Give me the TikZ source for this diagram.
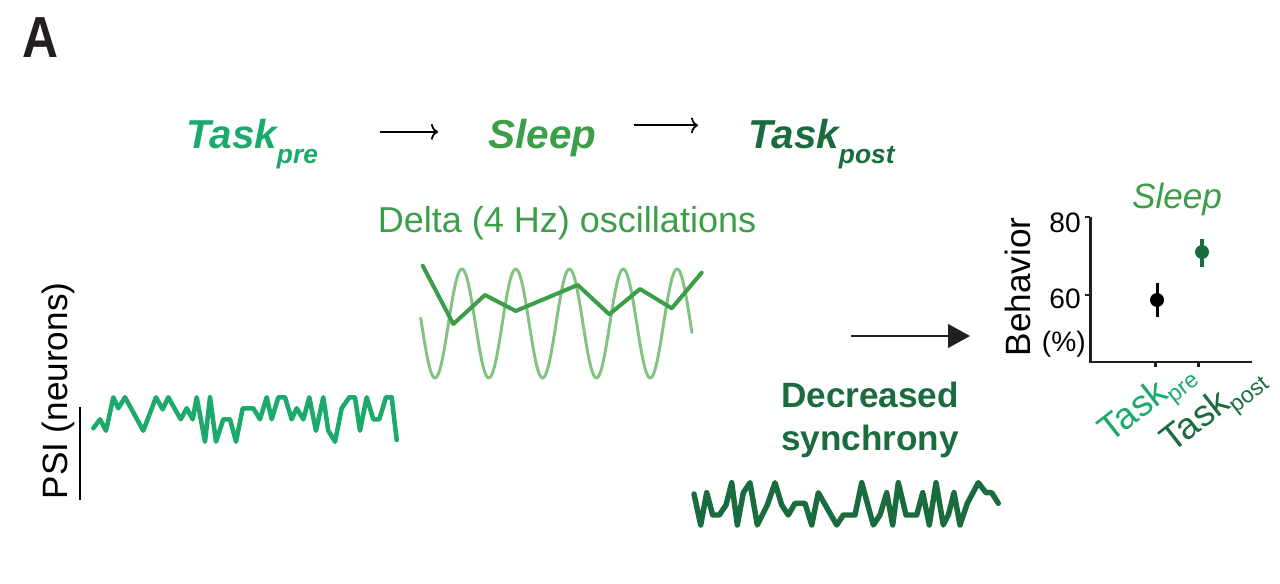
\documentclass[tikz,border=0pt]{standalone}
\usepackage{fontspec}
\setmainfont{Liberation Sans}
\usetikzlibrary{arrows.meta}
\usepackage{xcolor}

\definecolor{precol}{RGB}{28,170,108}
\definecolor{sleepcol}{RGB}{60,158,72}
\definecolor{postcol}{RGB}{26,107,62}
\definecolor{wavecol}{RGB}{128,196,128}
\definecolor{axiscol}{RGB}{35,31,32}

\begin{document}
\begin{tikzpicture}[x=0.02cm, y=-0.02cm,
    title/.style={font=\bfseries\itshape\fontsize{23}{23}\selectfont, inner sep=0pt, anchor=base west},
    flow/.style={-{To[length=4pt,width=9pt]}, line width=1pt, black},
    trace/.style={line width=#1, line join=round, line cap=round},
    axis/.style={line width=1.7pt, axiscol},
    ticklabel/.style={font=\fontsize{16}{18}\selectfont, inner sep=0pt, anchor=east},
    xlab/.style={font=\fontsize{21}{22}\selectfont, inner sep=0pt, anchor=base west, rotate=38}]
    \useasboundingbox (0,0) rectangle (1280,584);

    % Panel letter
    \node[font=\bfseries\fontsize{33}{33}\selectfont, text=axiscol] (A) at (41,38) {\scalebox{0.86}[1]{A}};

    % Task sequence on top
    \node[title, text=precol] (taskpre) at (186,149) {Task\raisebox{-8.5pt}{\fontsize{15}{15}\selectfont pre}};
    \node[title, text=sleepcol] (sleep) at (488,149) {Sleep};
    \node[title, text=postcol] (taskpost) at (748,149) {Task\raisebox{-8.5pt}{\fontsize{15}{15}\selectfont post}};

    \draw[flow, shorten <=1.24cm, shorten >=1cm] ([yshift=0.25cm]taskpre.mid east) -- ([yshift=0.25cm]sleep.mid west);
    \draw[flow, shorten <=0.74cm, shorten >=1cm] ([yshift=0.38cm]sleep.mid east) -- ([yshift=0.38cm]taskpost.mid west);

    % Delta oscillations
    \node[font=\fontsize{20.5}{24}\selectfont, text=sleepcol] (delta) at (567,223) {Delta (4 Hz) oscillations};
    \draw[trace=1.7pt, wavecol] plot[domain=420.7:692, samples=200, smooth] (\x, {323.5+54.5*cos(6.6914*(\x-435))});
    \draw[trace=2.3pt, sleepcol] plot coordinates {(422.7,265.7) (453.3,324) (485,295) (515.7,311) (577.7,285)
        (609.3,314.3) (640,289) (671.7,308.3) (701.7,272.7)};

    % PSI before sleep
    \node[rotate=90, font=\fontsize{20}{24}\selectfont] (psi) at (58,391) {PSI (neurons)};
    \draw[line width=0.9pt] (80,407) -- (80,500);
    \draw[trace=2.6pt, precol] plot coordinates {(93.3,428.3) (100,419.3) (106,430.7) (113.3,397.3) (118.3,408.3)
        (125,397.3) (143.3,430.7) (156,397.3) (162.7,409.3) (168.3,397.3) (180.7,419.3) (186.7,408.3)
        (192.7,419.3) (196.7,397.3) (205,441.7) (210,397.3) (216,441.7) (223.3,419.3) (230,419.3)
        (236,441.7) (242.7,408.3) (253.3,408.3) (260,419.3) (266.7,397.3) (271.7,419.3) (278.3,397.3)
        (285,397.3) (291.7,419.3) (296.7,408.3) (303.3,419.3) (309.3,397.3) (316,430.7) (323.3,397.3)
        (328.3,430.7) (335,441.7) (341.7,408.3) (349.3,397.3) (355,397.3) (360,430.7) (366.7,397.3)
        (373.3,419.3) (379.3,419.3) (386,397.3) (391.7,397.3) (396.7,440)};

    % PSI after sleep
    \node[align=center, text=postcol, font=\bfseries\fontsize{20}{24.5}\selectfont] (decr) at (870,420) {Decreased\\synchrony};
    \draw[trace=3.1pt, postcol] plot coordinates {(694,494) (700.7,525) (706.7,492.7) (712.7,515) (719.3,515)
        (726,505) (731.7,482.7) (737.3,525) (743.3,492.7) (750,482.7) (757.3,525) (767.3,505) (775,482.7)
        (781.7,505) (788.3,515) (795,503.3) (805,503.3) (811.7,525) (818.3,492.7) (836.7,525) (843.3,515)
        (855,515) (861.7,482.7) (873.3,525) (880,515) (886.7,492.7) (892.7,525) (898.3,482.7) (906,515)
        (916.7,515) (922.7,492.7) (929.3,525) (936,482.7) (943.3,525) (948.3,515) (954,492.7) (960,525)
        (967.3,503.3) (978.3,482.7) (986,492.7) (991.7,492.7) (998.3,503.3)};

    % Arrow to behavior
    \coordinate (pstart) at (851,336);
    \coordinate (pend) at (970,336);
    \draw[-{Triangle[length=12.5pt,width=13.5pt]}, line width=1.1pt, axiscol] (pstart) -- (pend);

    % Behavior plot
    \node[font=\itshape\fontsize{20}{24}\selectfont, text=sleepcol] (chsleep) at (1177,199) {Sleep};
    \node[rotate=90, font=\fontsize{20}{24}\selectfont] (beh) at (1018,287) {Behavior};
    \node[ticklabel] (l80) at (1081,223) {80};
    \node[ticklabel] (l60) at (1081,299) {60};
    \node[ticklabel] (lpc) at (1086,344) {(\%)};
    \draw[axis] (1090,217) -- (1090,362) -- (1252,362);
    \draw[axis] (1085,217) -- (1090,217);
    \draw[axis] (1085,295) -- (1090,295);
    \draw[axis] (1155,362) -- (1155,367);
    \draw[axis] (1198,362) -- (1198,367);
    \draw[line width=1.7pt] (1157,283) -- (1157,317);
    \fill (1157,300) circle[radius=0.14cm];
    \draw[line width=2.8pt, postcol] (1202,239) -- (1202,267);
    \fill[postcol] (1202,252) circle[radius=0.14cm];
    \node[xlab, text=precol] (xpre) at (1110,444) {Task\raisebox{-4.5pt}{\fontsize{13}{13}\selectfont pre}};
    \node[xlab, text=postcol] (xpost) at (1172,454) {Task\raisebox{-4.5pt}{\fontsize{13}{13}\selectfont post}};
\end{tikzpicture}
\end{document}
